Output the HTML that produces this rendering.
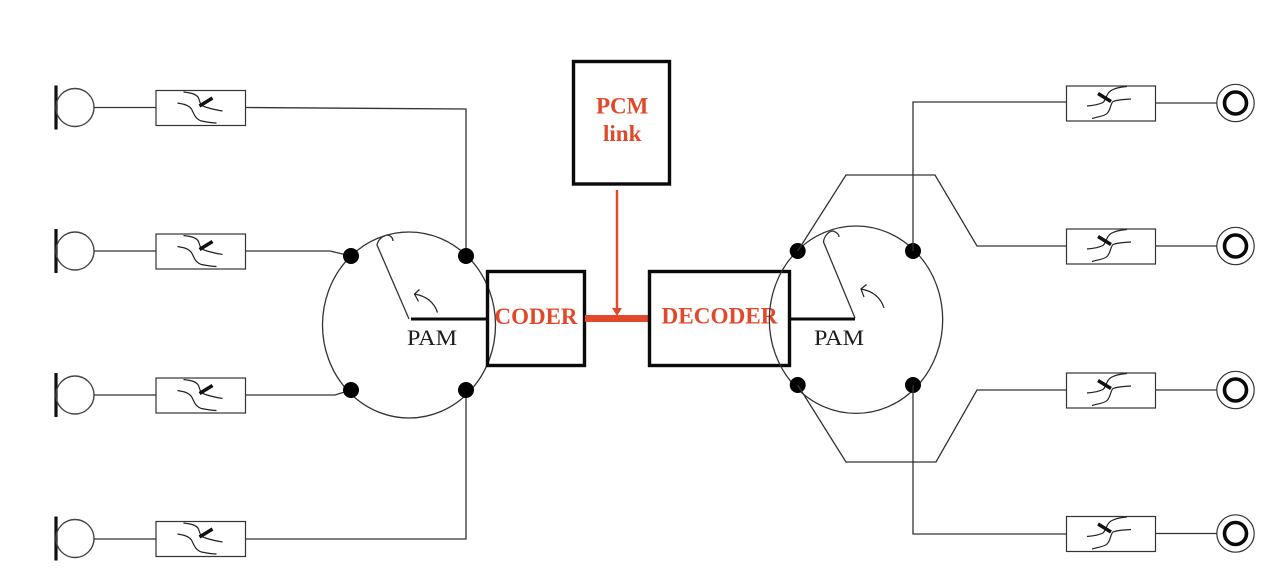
<!DOCTYPE html>
<html lang="en">
<head>
<meta charset="utf-8">
<title>PCM link diagram</title>
<style>
html,body{margin:0;padding:0;background:#fff;}
svg{display:block;}
text{font-family:"Liberation Serif",serif;}
.t{fill:none;stroke:#333;stroke-width:1.3;}
.g{fill:none;stroke:#222;stroke-width:1.2;}
.k{fill:none;stroke:#0a0a0a;stroke-width:3.4;}
.o{fill:#e2492a;font-weight:bold;font-size:23px;}
.p{fill:#1c1c1c;font-size:22.5px;}
</style>
</head>
<body>
<svg xmlns="http://www.w3.org/2000/svg" xmlns:xlink="http://www.w3.org/1999/xlink" width="1280" height="586" viewBox="0 0 1280 586">
<rect width="1280" height="586" fill="#fff"/>
<defs>
<g id="mic">
<line x1="-19" y1="-22" x2="-19" y2="22" stroke="#111" stroke-width="3.2"/>
<circle cx="0" cy="0" r="19" fill="none" stroke="#444" stroke-width="1.4"/>
</g>
<g id="fl">
<rect x="0.5" y="0.5" width="89.5" height="35" fill="none" stroke="#333" stroke-width="1.2"/>
<path class="g" d="M28 2C36 3 41 4 43 8C45 13 44 15 50 17C56 19 61 20 67 21"/>
<path class="g" d="M22 13C28 14 33 15 36 19C39 25 40 29 46 31C51 32 56 33 61 33"/>
<line x1="44" y1="16" x2="57" y2="8" stroke="#111" stroke-width="3.4"/>
</g>
<g id="fr">
<rect x="0.5" y="0.5" width="89" height="35" fill="none" stroke="#333" stroke-width="1.2"/>
<path class="g" d="M21 20.5C27 20 33 19 37 17C41 13 40 8 45 5C50 2 56 1.5 61 1"/>
<path class="g" d="M26 33C32 31 38 31 41 28C45 24 44 19 47 16C52 14 59 14 65 13.5"/>
<line x1="32" y1="8" x2="45" y2="16" stroke="#111" stroke-width="3.4"/>
</g>
<g id="sp">
<circle cx="0" cy="0" r="18.7" fill="none" stroke="#333" stroke-width="1.2"/>
<circle cx="0" cy="0" r="11" fill="none" stroke="#0a0a0a" stroke-width="3.6"/>
</g>
</defs>

<!-- left microphones -->
<use xlink:href="#mic" href="#mic" x="75" y="107.5"/>
<use xlink:href="#mic" href="#mic" x="75" y="251"/>
<use xlink:href="#mic" href="#mic" x="75" y="395"/>
<use xlink:href="#mic" href="#mic" x="75" y="538.5"/>

<!-- left filters -->
<use xlink:href="#fl" href="#fl" x="155.5" y="90"/>
<use xlink:href="#fl" href="#fl" x="155.5" y="233.5"/>
<use xlink:href="#fl" href="#fl" x="155.5" y="377.5"/>
<use xlink:href="#fl" href="#fl" x="155.5" y="521"/>

<!-- left wires -->
<path class="t" d="M94 107.5H155.5M245.5 107.5L466 109V256"/>
<path class="t" d="M94 251H155.5M245.5 251H330L351 256"/>
<path class="t" d="M94 395H155.5M245.5 395H335L351 390"/>
<path class="t" d="M94 539H155.5M245.5 539H466V390"/>

<!-- left commutator -->
<ellipse cx="409" cy="325" rx="86.5" ry="93" fill="none" stroke="#333" stroke-width="1.3"/>
<circle cx="351" cy="256" r="8" fill="#000"/>
<circle cx="466" cy="256" r="8" fill="#000"/>
<circle cx="351" cy="390" r="8" fill="#000"/>
<circle cx="466" cy="390" r="8" fill="#000"/>
<line x1="411" y1="319" x2="487" y2="319" stroke="#0a0a0a" stroke-width="3"/>
<path class="t" d="M409 319L377 245C378 239 384 235 388 235C391 236 393 238 393 241"/>
<path class="g" d="M437.5 312.5C434 302 426 296 414.5 294M419.5 289.5L414.5 294L418.5 301.5"/>
<text class="p" x="407" y="345" textLength="50" lengthAdjust="spacingAndGlyphs">PAM</text>

<!-- coder -->
<rect class="k" x="487.5" y="271.5" width="97" height="94"/>
<text class="o" x="494.5" y="324" textLength="83" lengthAdjust="spacingAndGlyphs">CODER</text>

<!-- PCM link -->
<rect class="k" x="573.5" y="61.5" width="96" height="122.5"/>
<text class="o" x="596" y="113.5">PCM</text>
<text class="o" x="603" y="141">link</text>
<line x1="617" y1="190" x2="617" y2="310" stroke="#e2492a" stroke-width="2.4"/>
<polygon points="612,308 622,308 617,316" fill="#e2492a"/>
<rect x="585" y="315" width="64" height="7" fill="#e2492a"/>

<!-- decoder -->
<rect class="k" x="649.5" y="271.5" width="140" height="94"/>
<text class="o" x="661.5" y="323.5" textLength="116" lengthAdjust="spacingAndGlyphs">DECODER</text>

<!-- right commutator -->
<ellipse cx="856" cy="319.7" rx="86.7" ry="93.7" fill="none" stroke="#333" stroke-width="1.3"/>
<circle cx="797.7" cy="251" r="8" fill="#000"/>
<circle cx="913" cy="251" r="8" fill="#000"/>
<circle cx="797.7" cy="385" r="8" fill="#000"/>
<circle cx="913" cy="385" r="8" fill="#000"/>
<line x1="790" y1="319" x2="855" y2="319" stroke="#0a0a0a" stroke-width="3"/>
<path class="t" d="M855 318L823.5 242C824 236 829 231 833 231C836 232 839 234 839 237"/>
<path class="g" d="M884 308C881 298 873 291 861 289M866.5 284.5L861 289L864 297"/>
<text class="p" x="814" y="345" textLength="50" lengthAdjust="spacingAndGlyphs">PAM</text>

<!-- right wires -->
<path class="t" d="M913 251V102H1066"/>
<path class="t" d="M797.7 251L846 175H935L977 246H1066"/>
<path class="t" d="M797.7 385L846 462H936L977 390H1066"/>
<path class="t" d="M913 385V534H1066"/>
<path class="t" d="M1155 103H1217M1155 246H1217M1155 390H1217M1155 533.5H1217"/>

<!-- right filters -->
<use xlink:href="#fr" href="#fr" x="1066" y="85.5"/>
<use xlink:href="#fr" href="#fr" x="1066" y="228.5"/>
<use xlink:href="#fr" href="#fr" x="1066" y="372.5"/>
<use xlink:href="#fr" href="#fr" x="1066" y="516"/>

<!-- right speakers -->
<use xlink:href="#sp" href="#sp" x="1235.5" y="103"/>
<use xlink:href="#sp" href="#sp" x="1235.5" y="246"/>
<use xlink:href="#sp" href="#sp" x="1235.5" y="390"/>
<use xlink:href="#sp" href="#sp" x="1235.5" y="533.5"/>
</svg>
</body>
</html>
